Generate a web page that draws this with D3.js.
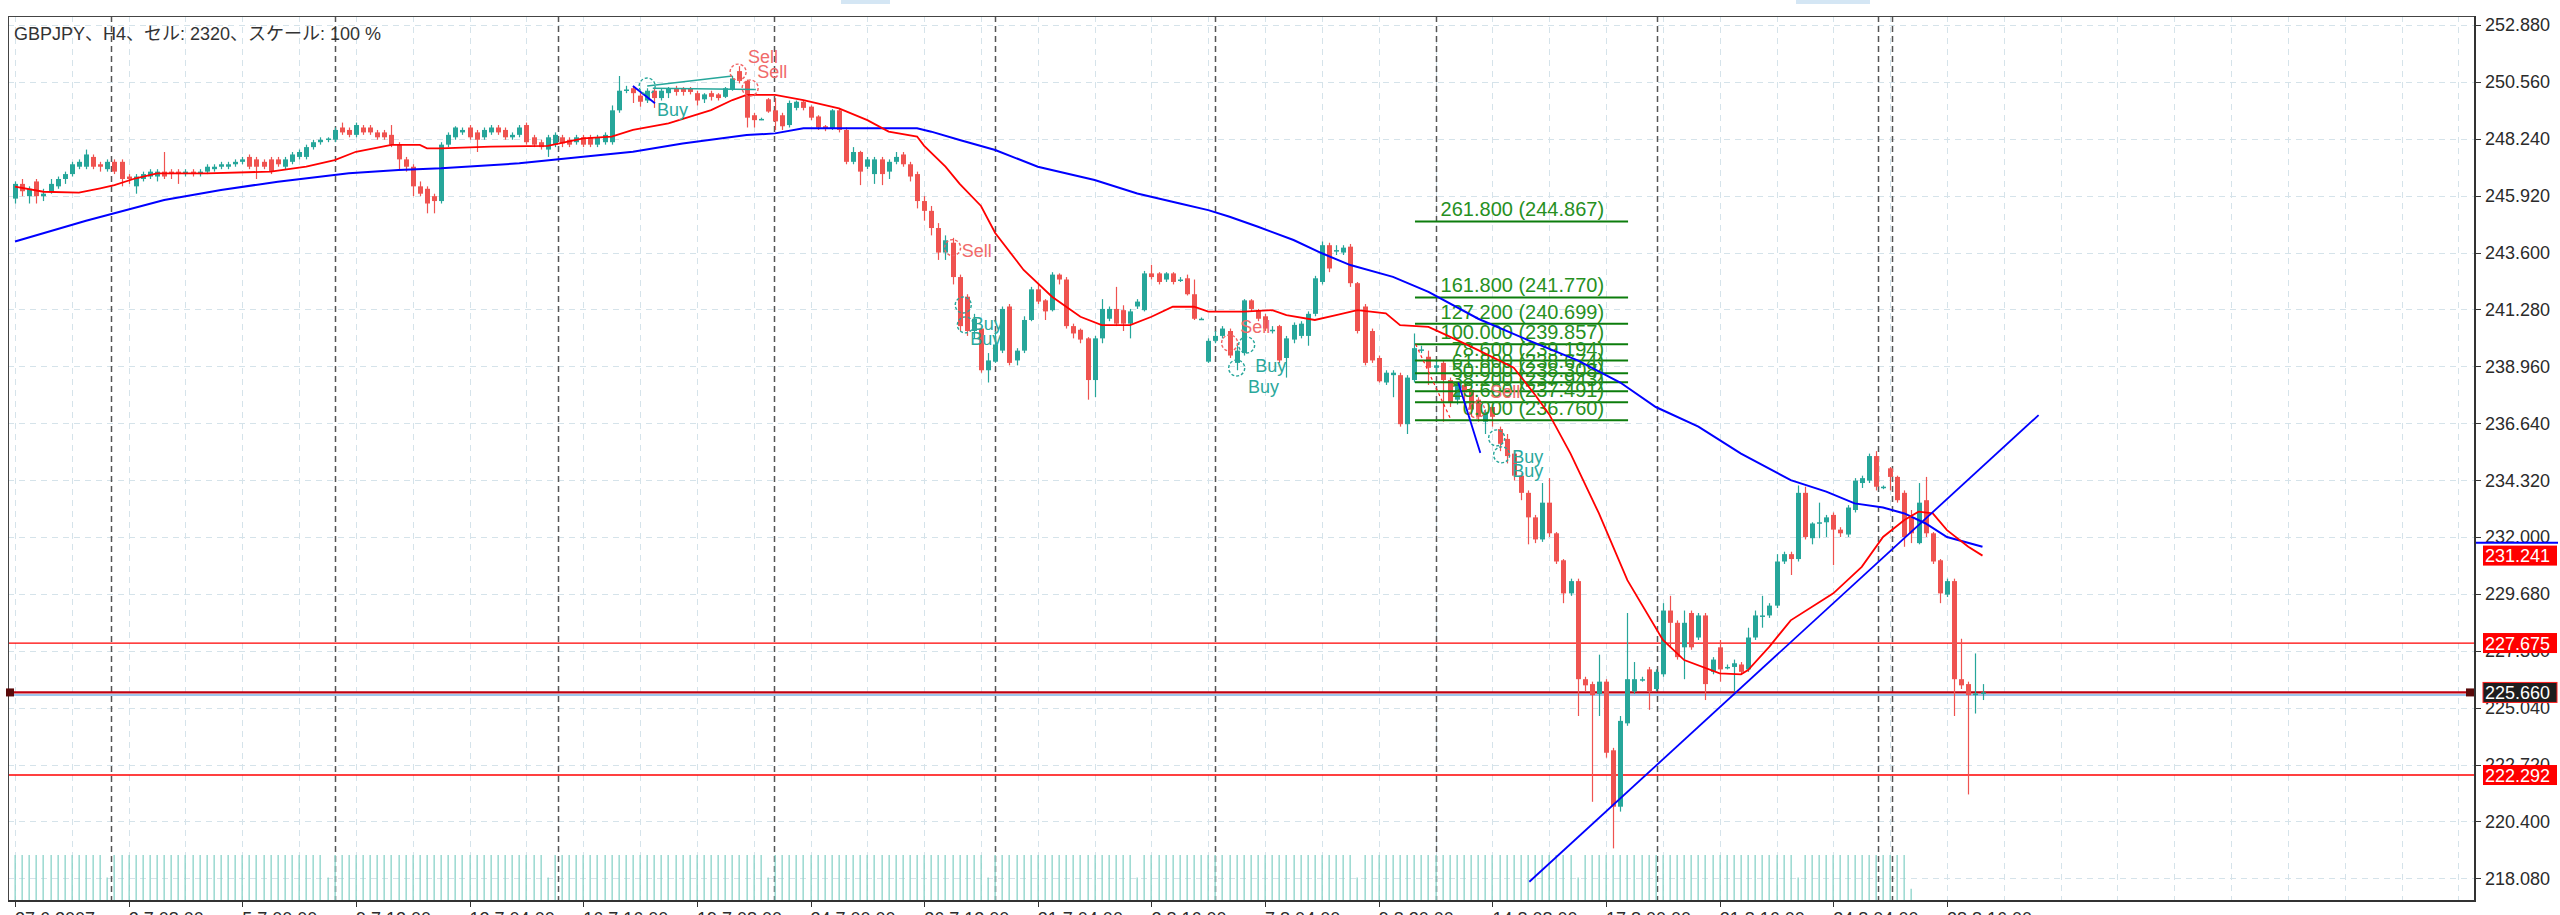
<!DOCTYPE html>
<html><head><meta charset="utf-8">
<script src="https://cdn.jsdelivr.net/npm/d3@7"></script>
<style>body{margin:0;background:#fff;}svg{display:block;}</style>
</head><body><svg id="c" width="2560" height="915"></svg>
<script>
// ---------- data ----------
const title = "GBPJPY、H4、セル: 2320、スケール: 100 %";
const ohlc = [
[245.8,246.5,245.6,246.4],[246.4,246.6,245.9,246.1],[245.9,246.3,245.6,246.2],[246.5,246.6,245.6,245.9],[245.9,246.2,245.7,246.0],
[246.1,246.6,246.0,246.4],[246.3,246.7,246.2,246.6],[246.6,246.9,246.4,246.8],[246.8,247.3,246.7,247.2],[247.1,247.4,247.0,247.3],
[247.1,247.8,247.0,247.6],[247.5,247.6,247.0,247.1],[247.2,247.3,246.9,247.1],[247.0,247.4,246.9,247.3],[247.3,247.4,246.8,246.9],
[247.3,247.4,246.3,246.6],[246.7,246.8,246.4,246.6],[246.3,246.8,246.0,246.7],[246.6,246.9,246.5,246.8],[246.7,247.0,246.6,246.9],
[246.7,247.0,246.5,246.9],[246.9,247.7,246.6,246.7],[246.9,247.0,246.6,246.8],[246.9,247.0,246.4,246.8],[246.8,247.0,246.7,246.9],
[246.9,247.0,246.7,246.8],[246.8,247.0,246.7,246.9],[246.9,247.2,246.8,247.1],[247.0,247.2,246.9,247.1],[247.1,247.3,247.0,247.2],
[247.1,247.3,247.0,247.2],[247.2,247.4,247.1,247.3],[247.3,247.5,247.2,247.4],[247.5,247.6,247.0,247.1],[247.4,247.5,246.6,247.1],
[247.3,247.4,247.0,247.1],[247.4,247.5,246.8,246.9],[247.4,247.5,247.1,247.2],[247.1,247.5,247.0,247.4],[247.3,247.7,247.2,247.6],
[247.5,247.8,247.4,247.7],[247.5,248.0,247.4,247.9],[247.9,248.2,247.8,248.1],[248.1,248.3,248.0,248.2],[248.2,248.3,248.1,248.25],
[248.2,248.7,248.1,248.6],[248.7,248.9,248.4,248.5],[248.6,248.7,248.3,248.4],[248.4,248.9,248.3,248.8],[248.7,248.8,248.4,248.5],
[248.7,248.8,248.4,248.5],[248.5,248.6,248.2,248.3],[248.5,248.6,248.2,248.3],[248.4,248.8,247.9,248.0],[248.0,248.1,247.0,247.4],
[247.4,247.5,246.9,247.1],[247.1,247.2,245.9,246.3],[246.3,246.5,245.9,246.0],[246.2,246.3,245.2,245.6],[245.9,246.0,245.2,245.7],
[245.7,248.1,245.6,248.0],[248.0,248.5,247.9,248.4],[248.3,248.75,248.2,248.7],[248.5,248.7,248.4,248.6],[248.7,248.8,248.2,248.3],
[248.5,248.6,247.7,248.2],[248.3,248.7,248.2,248.6],[248.5,248.8,248.4,248.7],[248.7,248.8,248.4,248.5],[248.6,248.7,248.2,248.3],
[248.3,248.5,248.2,248.4],[248.4,248.8,248.3,248.7],[248.8,248.9,248.0,248.1],[248.3,248.4,247.9,248.0],[248.1,248.2,247.8,247.9],
[247.8,248.4,247.5,248.3],[248.0,248.5,247.9,248.4],[248.3,248.4,247.9,248.05],[248.2,248.3,247.9,248.0],[248.1,248.4,248.0,248.3],
[248.3,248.4,247.9,248.0],[248.3,248.4,247.9,248.0],[248.0,248.4,247.9,248.3],[248.1,248.5,248.0,248.4],[248.1,249.6,248.0,249.4],
[249.4,250.8,249.3,250.2],[250.2,250.4,250.1,250.25],[250.3,250.4,249.7,250.1],[250.0,250.1,249.55,249.75],[249.8,250.3,249.7,250.2],
[250.2,250.3,249.5,249.9],[249.9,250.3,249.8,250.2],[250.1,250.35,249.9,250.3],[250.3,250.4,250.0,250.15],[250.3,250.35,250.0,250.15],
[250.3,250.35,250.05,250.15],[250.1,250.2,249.6,249.8],[249.85,250.1,249.7,250.05],[250.1,250.2,249.8,249.95],[250.05,250.1,249.8,249.9],
[249.95,250.35,249.9,250.3],[250.25,250.8,250.2,250.7],[251.0,251.2,250.5,250.6],[250.6,250.65,248.7,249.1],[249.2,249.3,248.7,249.0],
[249.05,249.1,249.0,249.05],[249.85,249.9,249.3,249.35],[249.4,249.9,248.6,248.95],[249.2,249.3,248.6,248.75],[248.8,249.8,248.7,249.7],
[249.5,249.8,249.4,249.75],[249.75,249.8,249.4,249.5],[249.55,249.6,249.0,249.1],[249.15,249.2,248.6,248.7],[248.75,248.8,248.55,248.65],
[248.65,249.45,248.6,249.4],[249.4,249.5,248.5,248.6],[248.6,248.7,247.2,247.3],[247.3,247.9,247.2,247.7],[247.7,247.75,246.35,246.9],
[247.1,247.5,247.0,247.4],[246.8,247.5,246.4,247.4],[247.4,247.5,246.35,246.8],[246.9,247.4,246.6,247.3],[247.3,247.7,247.2,247.5],
[247.6,247.7,247.1,247.2],[247.2,247.3,246.5,246.7],[246.8,246.9,245.4,245.7],[245.7,245.9,244.9,245.3],[245.3,245.5,244.3,244.6],
[244.6,244.8,243.3,243.6],[243.6,244.3,243.3,244.1],[244.0,244.2,242.3,242.6],[242.6,242.7,240.4,240.6],[241.8,241.9,240.2,240.4],
[240.4,241.1,240.1,240.9],[240.5,240.6,238.7,238.8],[238.8,239.5,238.3,239.2],[239.15,240.4,239.1,239.85],[239.6,241.4,239.5,241.3],
[241.4,241.5,239.0,239.1],[239.2,239.7,239.0,239.6],[239.6,241.0,239.5,240.85],[240.85,242.2,240.8,242.1],[242.1,242.3,241.5,241.6],
[241.65,241.7,240.85,241.2],[241.25,242.8,241.2,242.7],[242.7,242.75,242.3,242.5],[242.5,242.6,240.5,240.6],[240.6,240.7,240.1,240.3],
[240.45,240.5,239.9,240.05],[240.1,240.15,237.6,238.4],[238.4,240.2,237.7,240.1],[240.1,241.7,239.9,241.3],[240.9,241.4,240.8,241.3],
[241.3,242.2,240.6,240.7],[241.25,241.45,240.4,240.7],[240.7,241.3,240.1,241.2],[241.4,241.7,241.3,241.6],[241.25,242.85,241.2,242.75],
[242.75,243.1,242.5,242.6],[242.75,242.8,242.3,242.4],[242.5,242.8,242.4,242.75],[242.75,242.8,242.3,242.4],[242.5,242.6,242.4,242.5],
[242.55,242.7,241.85,241.9],[241.9,242.5,240.85,240.9],[240.9,240.95,240.85,240.9],[239.15,240.1,239.1,240.0],[240.0,240.4,239.9,240.2],
[240.2,240.6,240.1,240.5],[240.4,240.5,239.3,239.4],[239.1,239.9,238.8,239.6],[239.5,241.7,239.4,241.65],[241.65,241.7,241.2,241.3],
[241.25,241.3,240.8,240.9],[241.0,241.1,240.4,240.5],[240.4,240.6,240.3,240.45],[240.6,240.65,239.1,239.2],[239.3,240.2,238.5,240.1],
[240.05,240.75,239.9,240.65],[240.2,240.8,240.1,240.7],[240.2,241.2,239.8,241.1],[241.1,242.65,241.0,242.55],[242.4,244.05,242.3,243.9],
[243.9,244.0,242.8,242.95],[243.65,243.9,243.5,243.7],[243.6,243.9,243.5,243.8],[243.84,243.95,242.2,242.35],[242.35,242.4,240.3,240.4],
[241.4,241.5,239.0,239.1],[240.4,240.5,239.1,239.2],[239.3,239.4,238.3,238.35],[238.3,238.8,238.2,238.7],[238.6,238.8,237.7,238.7],
[238.6,238.7,236.5,236.6],[236.6,238.6,236.2,238.5],[238.4,240.3,238.3,239.7],[239.6,239.8,239.5,239.65],[239.35,239.6,238.2,238.9],
[238.9,239.2,238.7,239.0],[239.1,239.2,236.7,238.4],[238.4,238.5,237.3,237.5],[237.6,238.3,237.4,238.2],[238.2,238.3,237.4,237.9],
[238.0,238.1,236.9,237.2],[237.6,237.7,236.7,236.9],[236.7,237.2,236.2,237.1],[237.3,237.4,236.5,236.9],[236.4,236.5,235.5,235.8],
[236.0,236.2,235.0,235.3],[235.4,235.5,234.3,234.5],[234.5,234.6,233.5,233.8],[233.8,233.9,231.7,232.8],[232.8,232.9,231.75,231.9],
[231.9,234.2,231.8,233.4],[233.4,234.4,232.0,232.15],[232.15,232.2,230.9,231.0],[231.05,231.1,229.3,229.7],[229.7,230.3,229.6,230.2],
[230.2,230.3,224.7,226.2],[226.2,226.3,225.7,225.95],[226.0,226.1,221.2,225.55],[225.6,227.2,224.7,226.1],[226.1,226.2,223.0,223.2],
[223.3,223.4,219.3,221.0],[221.0,224.7,220.8,224.5],[224.4,228.9,224.3,226.2],[225.7,226.9,225.6,226.2],[226.2,226.3,226.1,226.2],
[226.6,226.7,224.95,225.7],[225.8,226.6,225.7,226.5],[226.4,229.3,226.3,229.0],[229.0,229.6,227.5,228.5],[228.5,228.6,227.0,227.1],
[227.5,229.0,226.2,228.5],[228.9,229.0,227.4,227.5],[227.9,228.9,227.8,228.8],[228.8,228.9,225.35,226.0],[226.5,227.1,226.4,227.0],
[227.5,227.8,226.1,226.6],[226.7,226.8,226.6,226.7],[226.7,227.0,225.7,226.85],[226.8,226.9,226.4,226.5],[226.6,228.3,226.5,227.9],
[227.9,229.0,227.8,228.8],[228.75,229.6,228.3,228.8],[228.8,229.3,228.7,229.2],[229.2,231.3,229.1,231.0],[231.0,231.4,230.9,231.3],
[231.3,231.4,230.45,231.1],[231.1,234.1,231.0,233.8],[233.8,234.05,231.9,232.0],[231.95,232.6,231.7,232.55],[232.55,233.4,231.95,232.6],
[232.6,232.9,232.0,232.8],[232.9,233.0,230.85,232.3],[232.3,232.4,232.0,232.15],[232.1,233.3,232.0,233.2],[233.1,234.4,233.0,234.3],
[234.2,234.5,234.0,234.4],[234.3,235.4,234.2,235.3],[235.3,235.5,233.9,234.05],[234.0,234.1,233.95,234.05],[234.8,234.85,233.9,234.45],
[234.45,234.5,233.4,233.5],[233.8,233.9,231.6,232.0],[232.8,233.1,231.75,232.15],[231.75,234.2,231.7,233.4],[233.5,234.45,232.0,232.15],
[232.15,232.2,230.9,231.0],[231.05,231.1,229.3,229.7],[229.65,230.3,229.55,230.2],[230.2,230.3,224.7,226.2],[226.2,227.85,225.8,225.95],
[226.0,226.1,221.5,225.55],[225.55,227.25,224.8,225.62],[225.62,226.0,225.35,225.66]
];
const volumes = [
100,100,100,100,100,100,100,100,100,100,100,100,100,50,100,100,100,100,100,100,100,100,100,100,100,100,100,100,100,100,
100,100,100,100,100,100,100,100,100,100,100,100,100,100,50,100,100,100,100,100,100,100,100,100,100,100,100,100,100,100,
100,100,100,100,100,100,100,100,100,100,100,100,100,100,100,50,100,100,100,100,100,100,100,100,100,100,100,100,100,100,
100,100,100,100,100,100,100,100,100,100,100,100,100,100,100,100,50,100,100,100,100,100,100,100,100,100,100,100,100,100,
100,100,100,100,100,100,100,100,100,100,100,100,100,100,100,100,100,50,100,100,100,100,100,100,100,100,100,100,100,100,
100,100,100,100,100,100,100,100,50,100,100,100,100,100,100,100,100,100,100,100,100,100,100,100,100,100,100,100,100,100,
100,100,100,100,100,100,100,100,100,50,100,100,100,100,100,100,100,100,100,100,100,100,100,100,100,100,100,100,100,100,
100,100,100,100,100,100,100,100,100,100,50,100,100,100,100,100,100,100,100,100,100,100,100,100,100,100,100,100,100,100,
100,100,100,100,100,100,100,100,100,100,100,50,100,100,100,100,100,100,100,100,100,100,100,100,100,100,100,25
];
const redMA = [[0,246.29],[4,246.08],[9,246.04],[12,246.22],[14,246.35],[17,246.63],[20,246.83],[27,246.83],[36,246.9],[41,247.1],
[45,247.37],[48,247.71],[53,247.99],[57,247.99],[58,247.85],[60,247.85],[67,247.92],[75,247.95],[80,248.26],[84,248.33],[87,248.6],
[92,248.87],[98,249.41],[101,249.82],[103,250.03],[107,250.03],[111,249.82],[116,249.48],[120,249.0],[123,248.53],[127,248.33],
[128,247.95],[131,247.1],[133,246.4],[136,245.5],[138,244.4],[142,242.89],[146,241.8],[150,240.98],[153,240.64],[157,240.64],
[160,240.98],[163,241.39],[166,241.39],[168,241.19],[173,241.19],[177,241.25],[179,241.05],[183,240.85],[186,241.05],[189,241.25],
[193,241.12],[195,240.64],[199,240.57],[202,240.17],[206,239.62],[211,238.9],[214,237.8],[216,237.0],[219,235.4],[223,232.96],
[227,230.24],[232,227.8],[235,226.98],[240,226.44],[243,226.4],[244,226.57],[247,227.53],[250,228.6],[256,229.7],[260,230.78],
[263,232.0],[266,232.69],[268,233.03],[270,232.96],[272,232.28],[275,231.6],[277,231.24]];
const blueMA = [[0,244.05],[10,244.9],[21,245.74],[29,246.15],[37,246.49],[47,246.83],[54,246.97],[60,247.04],[71,247.24],[80,247.51],
[87,247.71],[94,248.05],[103,248.39],[107,248.46],[111,248.67],[127,248.67],[129,248.53],[133,248.19],[138,247.78],[144,247.1],
[152,246.56],[158,246.01],[164,245.6],[168,245.33],[171,245.06],[175,244.65],[180,244.11],[184,243.57],[188,243.09],[194,242.61],
[199,242.0],[206,240.9],[213,240.03],[220,239.2],[226,238.3],[231,237.3],[237,236.5],[243,235.4],[250,234.32],[255,233.85],
[259,233.37],[263,233.2],[266,232.96],[269,232.55],[272,232.0],[277,231.6]];
const priceTicks = [218.08,220.40,222.72,225.04,227.36,229.68,232.00,234.32,236.64,238.96,241.28,243.60,245.92,248.24,250.56,252.88];
const timeLabels = ["27.6.2007","2.7 08:00","5.7 00:00","9.7 12:00","12.7 04:00","16.7 16:00","19.7 08:00","24.7 00:00","26.7 12:00",
"31.7 04:00","2.8 16:00","7.8 04:00","9.8 20:00","14.8 08:00","17.8 00:00","21.8 16:00","24.8 04:00","28.8 16:00"];
const timeLabelBars = [0,16,32,48,64,80,96,112,128,144,160,176,192,208,224,240,256,272];
const weekSeparators = [13.5,45,76.4,106.8,138,169,200,231.2,262.3,264.3];
const fibRatios = ["261.800","161.800","127.200","100.000","78.600","61.800","50.000","38.200","23.600","0.000"];
const fibPrices = [244.867,241.770,240.699,239.857,239.194,238.674,238.308,237.943,237.491,236.760];
const fibSpan = [197.1,227.1];
const fibDiagonal = [[197.2,239.857],[202.2,236.76]];
const trendLines = [[[213.2,217.94],[284.9,236.97]],[[203.2,238.3],[206.3,235.43]],[[87,250.39],[90.1,249.69]]];
const tradeLines = [[[89,250.39],[101,250.8]],[[89.8,250.3],[104.3,250.25]]];
const tradeCircles = [[89.0,250.39,"buy"],[101.8,250.96,"sell"],[103.5,250.31,"sell"],[132,243.8,"sell"],[133.5,241.46,"buy"],
[133.8,240.65,"buy"],[171,239.91,"sell"],[173.4,239.83,"buy"],[172,238.89,"buy"],[205.8,237.18,"sell"],[208.6,236.04,"buy"],[209.3,235.35,"buy"]];
const tradeLabels = [[90.4,249.17,"Buy"],[103.2,251.33,"Sell"],[104.5,250.72,"Sell"],[133.3,243.42,"Sell"],[134.7,240.44,"Buy"],
[134.5,239.83,"Buy"],[172.5,240.32,"Sell"],[174.6,238.73,"Buy"],[173.6,237.87,"Buy"],[207.7,237.67,"Sell"],[210.8,235.02,"Buy"],[210.8,234.45,"Buy"]];
const hLines = [227.675,225.660,222.292];
const axisMarks = [[231.241,"ma"],[227.675,"line"],[225.660,"bid"],[222.292,"line"]];
const blueMALast = 231.76;

// ---------- layout ----------
const P = {left:8, top:16, right:2475, bottom:901};
const UP="#26a69a", DN="#ef5350";
const FONT = "'Liberation Sans', Arial, 'Noto Sans CJK JP', sans-serif";
const svg = d3.select("#c");
const x = d3.scaleLinear().domain([0,277]).range([15,1982.5]);
const y = d3.scaleLinear().domain([218.08,252.88]).range([878.3,25]);
const yv = d3.scaleLinear().domain([0,100]).range([900,855]);

svg.append("defs").append("clipPath").attr("id","clip").append("rect")
  .attr("x",P.left).attr("y",P.top).attr("width",P.right-P.left).attr("height",P.bottom-P.top);

// top tabs
svg.append("rect").attr("x",841).attr("y",0).attr("width",49).attr("height",4).attr("fill","#d4e6f4");
svg.append("rect").attr("x",1796).attr("y",0).attr("width",74).attr("height",4).attr("fill","#d4e6f4");

const g = svg.append("g").attr("clip-path","url(#clip)");

// grid
const gridBars = d3.range(0, 350, 8);
g.selectAll(".vg").data(gridBars).join("line")
  .attr("x1",d=>Math.round(x(d))+0.5).attr("x2",d=>Math.round(x(d))+0.5).attr("y1",P.top).attr("y2",P.bottom)
  .attr("stroke","#d5e3ea").attr("stroke-width",1).attr("stroke-dasharray","6,5");
g.selectAll(".hg").data(priceTicks).join("line")
  .attr("x1",P.left).attr("x2",P.right).attr("y1",d=>Math.round(y(d))+0.5).attr("y2",d=>Math.round(y(d))+0.5)
  .attr("stroke","#d5e3ea").attr("stroke-width",1).attr("stroke-dasharray","6,5");
g.selectAll(".sep").data(weekSeparators).join("line")
  .attr("x1",d=>Math.round(x(d))+0.5).attr("x2",d=>Math.round(x(d))+0.5).attr("y1",P.top).attr("y2",P.bottom)
  .attr("stroke","#555").attr("stroke-width",1.5).attr("stroke-dasharray","6,4");

// volumes
g.selectAll(".vol").data(volumes).join("rect")
  .attr("x",(d,i)=>Math.round(x(i))-0.5).attr("width",1.3)
  .attr("y",d=>yv(d)).attr("height",d=>yv(0)-yv(d)).attr("fill","#8ad3c9");

// horizontal lines
g.append("line").attr("x1",P.left).attr("x2",P.right).attr("y1",y(225.660)+2.5).attr("y2",y(225.660)+2.5)
  .attr("stroke","#7fb3e6").attr("stroke-width",1.5);
g.selectAll(".hl").data(hLines).join("line")
  .attr("x1",P.left).attr("x2",P.right).attr("y1",d=>y(d)).attr("y2",d=>y(d))
  .attr("stroke",d=>d===225.660?"#c00010":"#ff0000").attr("stroke-width",d=>d===225.660?2.2:1.3);

// candles
const cg = g.append("g");
cg.selectAll(".wick").data(ohlc).join("line")
  .attr("x1",(d,i)=>Math.round(x(i))+0.5).attr("x2",(d,i)=>Math.round(x(i))+0.5)
  .attr("y1",d=>y(d[1])).attr("y2",d=>y(d[2]))
  .attr("stroke",d=>d[3]>=d[0]?UP:DN).attr("stroke-width",1.2);
cg.selectAll(".body").data(ohlc).join("rect")
  .attr("x",(d,i)=>Math.round(x(i))-2).attr("width",5)
  .attr("y",d=>y(Math.max(d[0],d[3])))
  .attr("height",d=>Math.max(1.5,Math.abs(y(d[0])-y(d[3]))))
  .attr("fill",d=>d[3]>=d[0]?UP:DN);

// fibonacci
const fg = g.append("g");
fg.selectAll("line").data(fibPrices).join("line")
  .attr("x1",x(fibSpan[0])).attr("x2",x(fibSpan[1])).attr("y1",d=>y(d)).attr("y2",d=>y(d))
  .attr("stroke","#0c7d0c").attr("stroke-width",2);
fg.selectAll("text").data(fibPrices).join("text")
  .attr("x",x(fibSpan[1])-24).attr("y",d=>y(d)-5).attr("text-anchor","end")
  .attr("font-family",FONT).attr("font-size",20).attr("fill","#27901f")
  .text((d,i)=>fibRatios[i]+" ("+d.toFixed(3)+")");
const lineGen = d3.line().x(d=>x(d[0])).y(d=>y(d[1]));
fg.append("path").attr("d",lineGen(fibDiagonal)).attr("fill","none").attr("stroke","#ff2020").attr("stroke-width",1.2).attr("stroke-dasharray","3,3");

// moving averages
g.append("path").attr("d",lineGen(blueMA)).attr("fill","none").attr("stroke","#0000ff").attr("stroke-width",2);
g.append("path").attr("d",lineGen(redMA)).attr("fill","none").attr("stroke","#ff0000").attr("stroke-width",1.8);

// trend lines
g.selectAll(".tl").data(trendLines).join("path").attr("d",d=>lineGen(d))
  .attr("fill","none").attr("stroke","#0000ff").attr("stroke-width",1.8);
g.selectAll(".trl").data(tradeLines).join("path").attr("d",d=>lineGen(d))
  .attr("fill","none").attr("stroke",UP).attr("stroke-width",1.5);

// trade markers
g.selectAll(".tc").data(tradeCircles).join("circle")
  .attr("cx",d=>x(d[0])).attr("cy",d=>y(d[1])).attr("r",8)
  .attr("fill","none").attr("stroke",d=>d[2]==="buy"?UP:"#f06464").attr("stroke-width",1.4).attr("stroke-dasharray","3,2");
g.selectAll(".tlab").data(tradeLabels).join("text")
  .attr("x",d=>x(d[0])).attr("y",d=>y(d[1]))
  .attr("font-family",FONT).attr("font-size",18)
  .attr("fill",d=>d[2]==="Buy"?"#2aa89c":"#f06a6a").text(d=>d[2]);

// frame & axes
svg.append("line").attr("x1",P.left).attr("x2",P.right).attr("y1",P.top+0.5).attr("y2",P.top+0.5).attr("stroke","#444");
svg.append("line").attr("x1",P.left+0.5).attr("x2",P.left+0.5).attr("y1",P.top).attr("y2",P.bottom).attr("stroke","#444");
svg.append("line").attr("x1",P.right).attr("x2",P.right).attr("y1",P.top).attr("y2",P.bottom+1).attr("stroke","#333").attr("stroke-width",2);
svg.append("line").attr("x1",P.left).attr("x2",P.right).attr("y1",P.bottom).attr("y2",P.bottom).attr("stroke","#333").attr("stroke-width",2);

svg.selectAll(".ytick").data(priceTicks).join("line")
  .attr("x1",P.right).attr("x2",P.right+6).attr("y1",d=>Math.round(y(d))+0.5).attr("y2",d=>Math.round(y(d))+0.5).attr("stroke","#333");
svg.selectAll(".ylab").data(priceTicks).join("text")
  .attr("x",P.right+10).attr("y",d=>y(d)).attr("dy","0.36em")
  .attr("font-family",FONT).attr("font-size",18).attr("fill","#2b2b2b").text(d=>d.toFixed(3));

svg.selectAll(".xtick").data(timeLabelBars).join("line")
  .attr("x1",d=>Math.round(x(d))+0.5).attr("x2",d=>Math.round(x(d))+0.5).attr("y1",P.bottom).attr("y2",P.bottom+6).attr("stroke","#333");
svg.selectAll(".xlab").data(timeLabels).join("text")
  .attr("x",(d,i)=>x(timeLabelBars[i])).attr("y",925)
  .attr("font-family",FONT).attr("font-size",18).attr("fill","#2b2b2b").text(d=>d);

// axis price marks
svg.append("line").attr("x1",P.right+1).attr("x2",2558).attr("y1",y(blueMALast)).attr("y2",y(blueMALast)).attr("stroke","#0000ff").attr("stroke-width",2);
const am = svg.selectAll(".am").data(axisMarks).join("g");
am.append("rect").attr("x",P.right+8).attr("y",d=>y(d[0])-10).attr("width",74).attr("height",20)
  .attr("fill",d=>d[1]==="bid"?"#1e1e1e":"#ff0000").attr("stroke",d=>d[1]==="bid"?"#ff2020":"none");
am.append("text").attr("x",P.right+10).attr("y",d=>y(d[0])).attr("dy","0.36em")
  .attr("font-family",FONT).attr("font-size",18).attr("fill","#fff").text(d=>d[0].toFixed(3));
// line handles
svg.append("rect").attr("x",P.left-2).attr("y",y(225.660)-4).attr("width",8).attr("height",8).attr("fill","#5a0a0a");
svg.append("rect").attr("x",P.right-9).attr("y",y(225.660)-4).attr("width",8).attr("height",8).attr("fill","#5a0a0a");

// title
svg.append("text").attr("x",14).attr("y",40).attr("font-family",FONT).attr("font-size",18).attr("fill","#333").text(title);
</script>
</body></html>
